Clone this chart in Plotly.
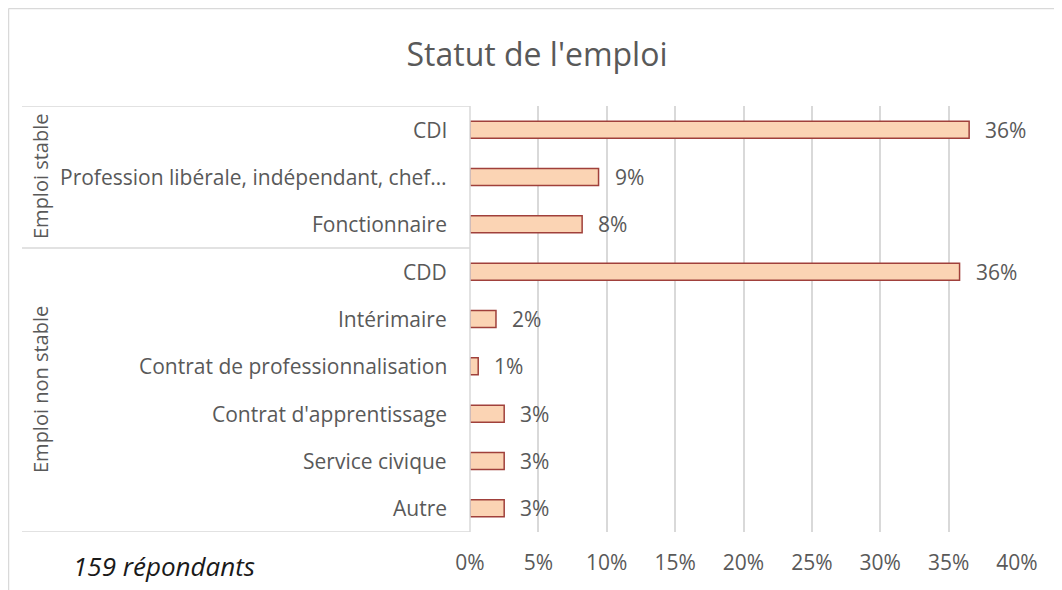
import plotly.graph_objects as go

categories = ["CDI", "Profession libérale, indépendant, chef…", "Fonctionnaire",
              "CDD", "Intérimaire", "Contrat de professionnalisation",
              "Contrat d'apprentissage", "Service civique", "Autre"]
values = [36.5, 9.4, 8.2, 35.8, 1.9, 0.6, 2.5, 2.5, 2.5]
value_labels = ["36%", "9%", "8%", "36%", "2%", "1%", "3%", "3%", "3%"]
groups = ["Emploi stable", "Emploi non stable"]
group_sizes = [3, 6]
x_ticks = [0, 5, 10, 15, 20, 25, 30, 35, 40]
x_tick_labels = ["0%", "5%", "10%", "15%", "20%", "25%", "30%", "35%", "40%"]

FONT = "Open Sans"
TXT = "#595959"

fig = go.Figure()
fig.add_trace(go.Bar(
    x=values, y=categories, orientation="h",
    marker=dict(color="#FBD4B4", line=dict(color="#A0403B", width=1.5)),
    hoverinfo="skip",
))

OFF = 8  # page body margin
W, H = 1062 - OFF, 590 - OFF
L, R, T, B = 470 - OFF, 45, 106 - OFF, 58
pw = W - L - R
ph = H - T - B

def px(page_x):
    return (page_x - OFF - L) / pw

def py(page_y):
    return 1 - (page_y - OFF - T) / ph

annotations = []
for c, v, lab in zip(categories, values, value_labels):
    annotations.append(dict(x=v, y=c, xref="x", yref="y", text=lab, showarrow=False,
                            xanchor="left", xshift=14, font=dict(family=FONT, size=21, color=TXT)))
    annotations.append(dict(x=px(449), y=c, xref="paper", yref="y", text=c,
                            showarrow=False, xanchor="right",
                            font=dict(family=FONT, size=21, color=TXT)))

shapes = []
start = 0
bounds = [-0.5]
for g, n in zip(groups, group_sizes):
    mid = start + (n - 1) / 2
    annotations.append(dict(x=px(40), y=mid, xref="paper", yref="y", text=g,
                            showarrow=False, textangle=-90, xanchor="center", yanchor="middle",
                            font=dict(family=FONT, size=20, color=TXT)))
    start += n
    bounds.append(start - 0.5)

for b in bounds:
    shapes.append(dict(type="line", xref="paper", yref="y", x0=px(22), x1=0,
                       y0=b, y1=b, line=dict(color="#D9D9D9", width=1.5)))
shapes.append(dict(type="line", xref="paper", yref="y", x0=0, x1=0, y0=-0.5, y1=8.5,
                   line=dict(color="#D9D9D9", width=1.5)))
# chart outer border (top and left visible)
shapes.append(dict(type="line", xref="paper", yref="paper",
                   x0=px(8.5), x1=px(1062), y0=py(8.5), y1=py(8.5),
                   line=dict(color="#D9D9D9", width=1.5)))
shapes.append(dict(type="line", xref="paper", yref="paper",
                   x0=px(8.5), x1=px(8.5), y0=py(8.5), y1=py(600),
                   line=dict(color="#D9D9D9", width=1.5)))

annotations.append(dict(x=px(71), y=py(566), xref="paper", yref="paper",
                        text="<i>159 répondants</i>", showarrow=False, xanchor="left",
                        yanchor="middle",
                        font=dict(family=FONT, size=26, color="#1a1a1a")))

fig.update_layout(
    width=W, height=H,
    margin=dict(l=L, r=R, t=T, b=B),
    paper_bgcolor="white", plot_bgcolor="white",
    title=dict(text="Statut de l'emploi", x=(537 - OFF) / W, xanchor="center",
               y=1 - (55 - OFF) / H, yanchor="middle",
               font=dict(family=FONT, size=32, color=TXT)),
    bargap=0.64,
    showlegend=False,
    annotations=annotations,
    shapes=shapes,
    xaxis=dict(range=[0, 40], tickvals=x_ticks, ticktext=x_tick_labels,
               showgrid=True, gridcolor="#D9D9D9", gridwidth=1.5, zeroline=False,
               showline=False, ticks="outside", ticklen=12, tickcolor="rgba(0,0,0,0)",
               tickfont=dict(family=FONT, size=21, color=TXT), fixedrange=True),
    yaxis=dict(range=[8.5, -0.5], showticklabels=False, showgrid=False, zeroline=False,
               showline=False, fixedrange=True),
)

fig.write_html("out.html")
